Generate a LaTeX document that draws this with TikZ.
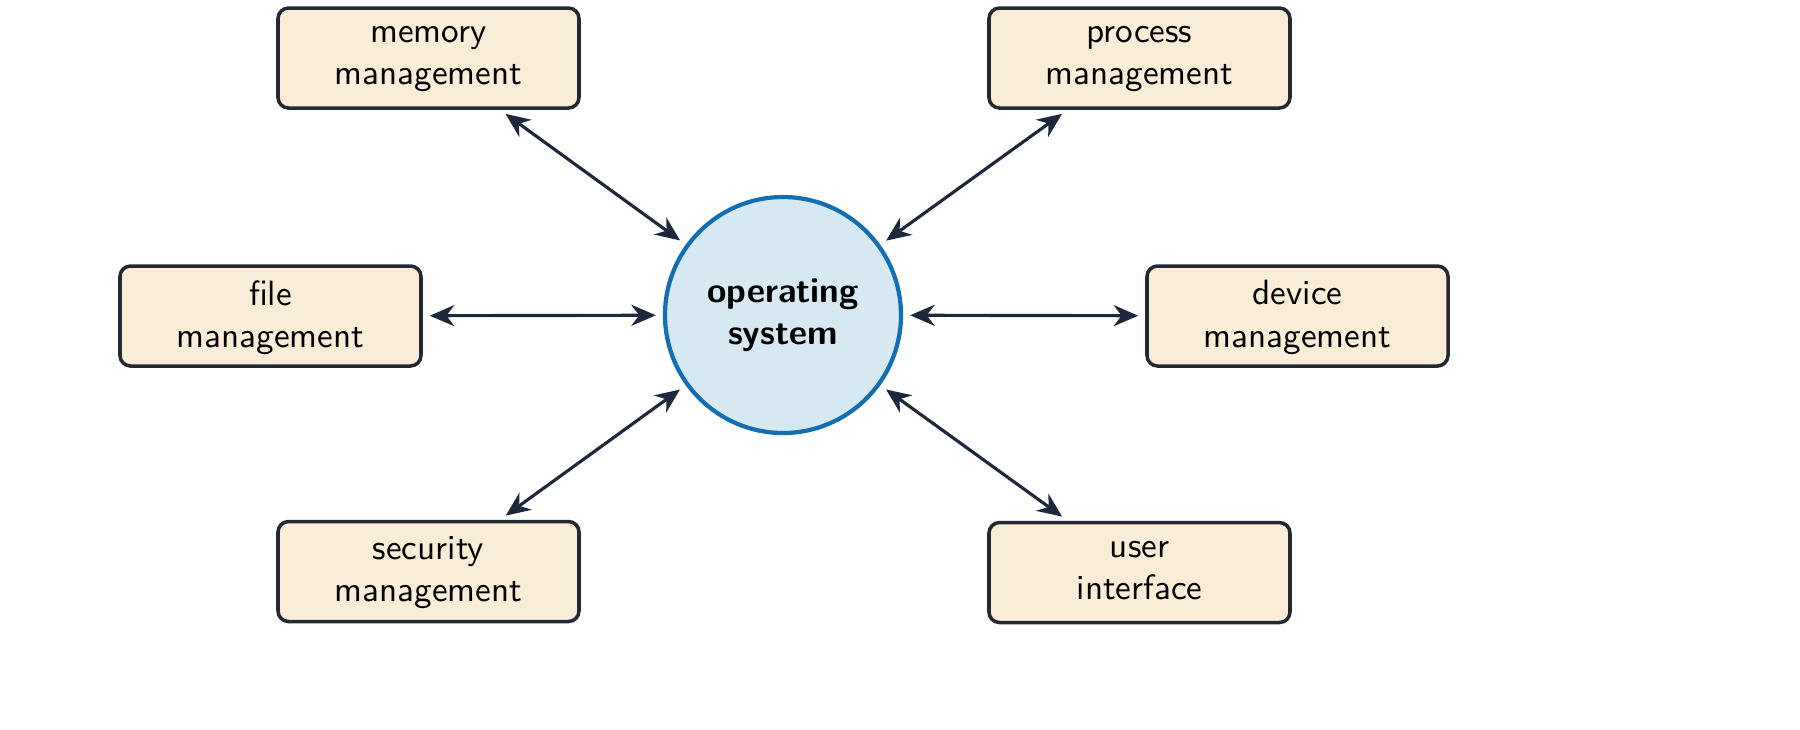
\documentclass[tikz,border=0pt]{standalone}
\usetikzlibrary{positioning}
\usetikzlibrary{arrows.meta}
\definecolor{boxFill}{RGB}{250,237,215}
\definecolor{boxDraw}{RGB}{35,40,50}
\definecolor{osFill}{RGB}{214,232,242}
\definecolor{osDraw}{RGB}{20,110,180}
\definecolor{linkColor}{RGB}{30,40,60}
\tikzset{
  task/.style={draw=boxDraw,fill=boxFill,line width=1pt,rounded corners=3pt,
    minimum width=3.01cm,minimum height=1.0cm,align=center,font=\sffamily,
    text depth=0.3ex},
  core/.style={circle,draw=osDraw,fill=osFill,line width=1.2pt,minimum size=2.36cm,
    align=center,font=\sffamily\bfseries},
  link/.style={{Stealth[length=7pt,width=6pt]}-{Stealth[length=7pt,width=6pt]},
    draw=linkColor,line width=0.9pt,shorten <=2pt,shorten >=2pt}
}
\begin{document}
\begin{tikzpicture}
\useasboundingbox (0,0) rectangle (18,-7.29);

\node[core] (os) at (7.83,-3.15) {operating\\system};

\node[task] (memory)   at (4.285,-0.58) {memory\\management};
\node[task] (process)  at (11.395,-0.58) {process\\management};
\node[task] (file)     at (2.705,-3.16) {file\\management};
\node[task] (device)   at (12.975,-3.16) {device\\management};
\node[task] (security) at (4.285,-5.715) {security\\management};
\node[task] (user)     at (11.395,-5.725) {user\\interface};

\foreach \t in {memory,process,file,device,security,user}
  \draw[link] (\t) -- (os);
\end{tikzpicture}
\end{document}
